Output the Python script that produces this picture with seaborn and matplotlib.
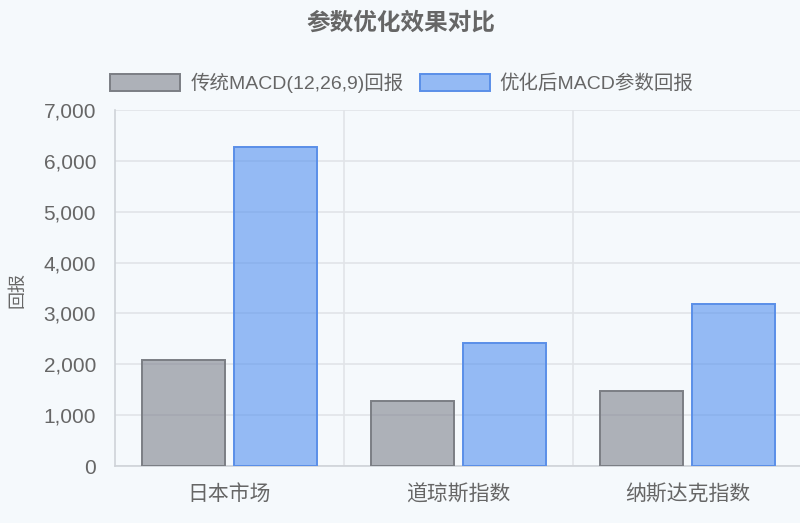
import matplotlib
matplotlib.use("Agg")
import matplotlib.pyplot as plt
import seaborn as sns
import pandas as pd
from matplotlib.ticker import FuncFormatter, MultipleLocator
from matplotlib.patches import Patch

categories = ["日本市场", "道琼斯指数", "纳斯达克指数"]
series_names = ["传统MACD(12,26,9)回报", "优化后MACD参数回报"]
traditional = [2080, 1280, 1480]
optimized = [6280, 2420, 3180]

df = pd.DataFrame({
    "市场": categories * 2,
    "系列": [series_names[0]] * 3 + [series_names[1]] * 3,
    "回报": traditional + optimized,
})

sns.set_theme(style="white")
plt.rcParams["font.family"] = ["Liberation Sans", "Noto Sans CJK SC", "DejaVu Sans"]

BG = "#f5f9fc"
W, H = 800, 523
PX = 100 / 72  # pixels per point
fig = plt.figure(figsize=(W / 100, H / 100), dpi=100, facecolor=BG)
ax = fig.add_axes([115 / W, (H - 466) / H, 687 / W, 356 / H], facecolor=BG)

face = [(0.49, 0.507, 0.548, 0.6), (0.327, 0.567, 0.94, 0.6)]
edge = ["#7b7e84", "#5a8fe8"]
sns.barplot(data=df, x="市场", y="回报", hue="系列", hue_order=series_names,
            palette=[face[0][:3], face[1][:3]], width=0.8, gap=0.1, ax=ax,
            legend=False, zorder=3)

for i, container in enumerate(ax.containers):
    for bar in container:
        bar.set_facecolor(face[i])
        bar.set_edgecolor(edge[i])
        bar.set_linewidth(1.4)

ax.set_xlim(-0.5, 2.5)
ax.set_ylim(0, 7000)
ax.yaxis.set_major_locator(MultipleLocator(1000))
ax.yaxis.set_major_formatter(FuncFormatter(lambda v, p: f"{int(v):,}"))

grid_c = "#e1e4e8"
ax.grid(axis="y", color=grid_c, linewidth=1.2, zorder=0)
for xb in [0.5, 1.5, 2.5]:
    ax.axvline(xb, color=grid_c, linewidth=1.2, zorder=0)
ax.set_xticks([0, 1, 2])
ax.set_xticks([-0.5, 0.5, 1.5, 2.5], minor=True)
ax.tick_params(axis="x", which="major", length=0, pad=13, labelsize=15, labelcolor="#666666")
ax.tick_params(axis="x", which="minor", length=12 / PX, color=grid_c, width=1.2)
ax.tick_params(axis="y", length=12 / PX, color=grid_c, width=1.2, pad=5,
               labelsize=15, labelcolor="#666666")

for s in ["top", "right"]:
    ax.spines[s].set_visible(False)
ax.spines["left"].set_color("#cfd3d8")
ax.spines["bottom"].set_color("#cfd3d8")
ax.spines["left"].set_linewidth(1.2)
ax.spines["bottom"].set_linewidth(1.2)

ax.set_xlabel("")
ax.set_ylabel("")
fig.text(18 / W, (H - 290) / H, "回报", rotation=90, ha="center", va="center",
         fontsize=13, color="#666666")

fig.text(401 / W, (H - 23) / H, "参数优化效果对比", ha="center", va="center",
         fontsize=17, fontweight="bold", color="#666666")

handles = [Patch(facecolor=face[i], edgecolor=edge[i], linewidth=1.4) for i in range(2)]
fig.legend(handles, series_names, loc="center", bbox_to_anchor=(402 / W, (H - 83) / H),
           ncol=2, frameon=False, fontsize=14, handlelength=3.6, handleheight=1.03,
           handletextpad=0.5, columnspacing=0.85, labelcolor="#666666")

fig.savefig("out.png", dpi=100, facecolor=BG)
